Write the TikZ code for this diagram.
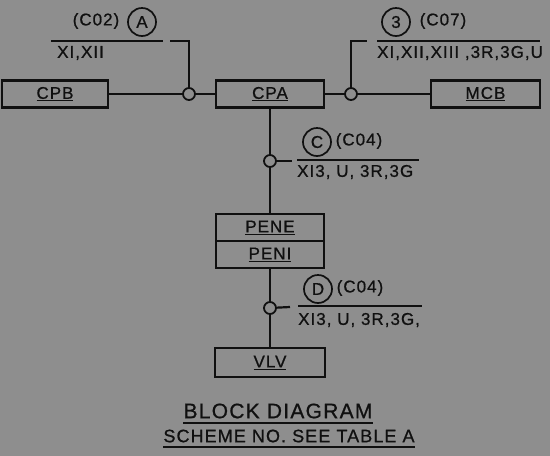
\documentclass[tikz,border=0pt]{standalone}
\usepackage{fontspec}
\setmainfont[LetterSpace=6,FakeBold=0.8]{Liberation Sans}
\usetikzlibrary{positioning}

\definecolor{paper}{HTML}{8E8E8E}
\definecolor{ink}{HTML}{101010}

\newcommand*{\boxw}{108}
\newcommand*{\boxh}{27}
\newcommand*{\busy}{94}
\newcommand*{\midx}{270}
\newcommand*{\hand}{\fontsize{17}{17}\selectfont}

\begin{document}
\begin{tikzpicture}
[
	x=1pt,
	y=-1pt,
	unit/.style={draw=ink,text=ink,line width=2.4pt,minimum width=\boxw pt,minimum height=\boxh pt,inner sep=0pt,font=\hand},
	joint/.style={circle,draw=ink,line width=1.8pt,minimum size=12pt,inner sep=0pt},
	tag/.style={circle,draw=ink,text=ink,line width=1.7pt,minimum size=28pt,inner sep=0pt,font=\hand},
	txt/.style={text=ink,inner sep=0pt,font=\hand},
	wire/.style={draw=ink,line width=2.2pt},
	lead/.style={draw=ink,line width=2pt}
]

	\fill[paper] (0,0) rectangle (550,456);
	\useasboundingbox (0,0) rectangle (550,456);

	% blocks
	\node[unit,minimum width=106pt] (cpb) at (55,\busy) {\underline{CPB}};
	\node[unit] (cpa) at (\midx,\busy) {\underline{CPA}};
	\node[unit,minimum width=109pt] (mcb) at (485.5,\busy) {\underline{MCB}};
	\node[unit] (pene) at (\midx,227.5) {\underline{PENE}};
	\node[unit,below=-2.4pt of pene] (peni) {\underline{PENI}};
	\node[unit,minimum width=110pt,minimum height=29pt] (vlv) at (\midx,362.5) {\underline{VLV}};

	% junctions
	\node[joint] (jl) at (189,\busy) {};
	\node[joint] (jr) at (351,\busy) {};
	\node[joint] (jc) at (\midx,161) {};
	\node[joint] (jd) at (\midx,308) {};

	% wiring
	\draw[wire] (cpb) -- (jl) -- (cpa) -- (jr) -- (mcb);
	\draw[wire] (cpa) -- (jc) -- (pene);
	\draw[wire] (peni) -- (jd) -- (vlv);

	\coordinate (lup) at (189,41);
	\coordinate (lend) at (170,41);
	\coordinate (rup) at (351,41);
	\coordinate (rend) at (367,41);
	\coordinate (cend) at (292,161);
	\coordinate (dend) at (290,307);
	\draw[wire] (jl) -- (lup) -- (lend);
	\draw[wire] (jr) -- (rup) -- (rend);
	\draw[wire] (jc) -- (cend);
	\draw[wire] (jd) -- (dend);

	% cable callouts
	\draw[lead]
	  (51,41) -- (163,41)
	  (377,41) -- (540,41)
	  (297,160) -- (419,160)
	  (298,306) -- (422,306)
	;
	\node[txt,anchor=west] (wl) at (57,53) {XI,XII};
	\node[txt,anchor=west] (wr) at (377,53) {XI,XII,XIII ,3R,3G,U};
	\node[txt,anchor=west] (wc) at (297,172) {XI3, U, 3R,3G};
	\node[txt,anchor=west] (wd) at (298,320) {XI3, U, 3R,3G,};

	\node[tag] (ta) at (142,22) {A};
	\node[txt] (ca) at (96,21) {(C02)};
	\node[tag] (t3) at (396,22) {3};
	\node[txt] (c3) at (443,21) {(C07)};
	\node[tag] (tc) at (317,142) {C};
	\node[txt] (cc) at (359,141) {(C04)};
	\node[tag] (td) at (318,289) {D};
	\node[txt] (cd) at (360,288) {(C04)};

	% title
	\node[txt,font=\fontsize{21}{21}\selectfont] (title) at (278,411) {BLOCK DIAGRAM};
	\draw[lead] ([yshift=-4pt]title.south west) -- ([yshift=-4pt]title.south east);
	\node[txt,font=\fontsize{18}{18}\selectfont] (scheme) at (289,436) {SCHEME NO. SEE TABLE A};
	\draw[lead] ([yshift=-4pt]scheme.south west) -- ([yshift=-4pt]scheme.south east);

\end{tikzpicture}
\end{document}
